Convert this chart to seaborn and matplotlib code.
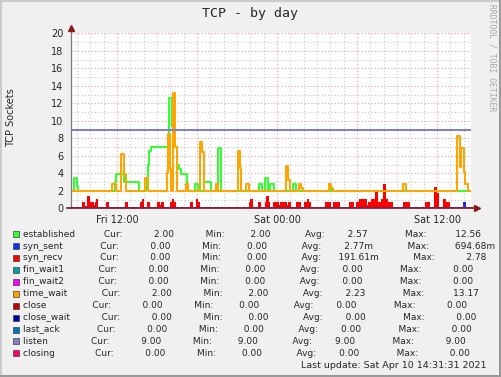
import numpy as np
import pandas as pd
import matplotlib
matplotlib.use("Agg")
import matplotlib.pyplot as plt
import seaborn as sns
from matplotlib.lines import Line2D
from matplotlib.patches import Rectangle
from matplotlib.ticker import MultipleLocator, FuncFormatter

sns.set_style("white")
plt.rcParams['font.family'] = ['DejaVu Sans']

# ---- time axis (hours relative to Fri 12:00) ----
T_START, T_END = -3.475, 26.525
tick_hours = [0, 12, 24]
tick_labels = ["Fri 12:00", "Sat 00:00", "Sat 12:00"]

# ---- series (step breakpoints: time, value) ----
est_t = [-3.475, -3.20, -3.02, -2.95, -0.13, -0.08, 0.50, 1.65, 2.18, 2.25, 2.35, 2.42,
         2.51, 3.90, 4.10, 4.20, 4.48, 4.67, 4.80, 5.25, 5.85, 6.05, 6.55, 7.05, 7.60,
         7.80, 10.63, 10.88, 11.06, 11.35, 11.48, 11.80, 13.20, 13.43, 16.01, 16.09]
est_v = [2.0, 3.43, 2.6, 2.0, 3.0, 3.96, 2.97, 2.0, 2.5, 3.4, 5.0, 6.5,
         6.97, 12.56, 9.4, 7.0, 5.0, 4.5, 3.96, 2.0, 2.78, 2.0, 2.97, 2.0, 6.86,
         2.0, 2.74, 2.0, 3.43, 2.0, 2.74, 2.0, 2.74, 2.0, 2.3, 2.0]

tw_t = [-3.475, -0.38, -0.08, 0.30, 0.50, 0.68, 2.12, 2.35, 3.73, 3.85, 3.98, 4.07,
        4.18, 4.35, 4.48, 5.18, 5.35, 6.20, 6.35, 6.50, 7.43, 7.60, 9.05, 9.23, 9.33,
        9.68, 9.88, 12.68, 12.85, 12.98, 13.63, 13.80, 13.95, 15.88, 16.05, 16.18,
        21.43, 21.64, 25.50, 25.73, 25.82, 26.05, 26.12, 26.30]
tw_v = [2.0, 2.74, 2.0, 6.2, 3.9, 2.0, 3.43, 2.0, 4.1, 8.46, 4.5, 2.0,
        13.17, 7.0, 2.0, 2.78, 2.0, 7.54, 6.47, 2.0, 2.78, 2.0, 6.55, 4.57, 2.0,
        2.78, 2.0, 4.85, 3.2, 2.0, 2.74, 2.3, 2.0, 2.74, 2.3, 2.0,
        2.74, 2.0, 8.26, 4.76, 6.85, 4.2, 2.78, 2.0]

sr_t = [-3.475, -2.65, -2.42, -2.27, -2.02, -1.73, -1.63, -1.55, -1.40, -0.83, -0.60,
        0.56, 0.79, 1.75, 1.88, 2.05, 2.21, 2.50, 3.00, 3.19, 3.26, 3.55, 4.00, 4.12,
        4.28, 4.43, 5.45, 5.68, 5.95, 6.10, 6.25, 9.86, 9.98, 10.16, 10.55, 10.80,
        11.10, 11.20, 11.38, 11.45, 11.72, 12.15, 12.23, 12.73, 12.85, 13.05, 13.43,
        13.80, 14.05, 14.27, 14.40, 14.55, 15.60, 16.01, 16.16, 16.69, 17.42, 17.80,
        17.93, 18.17, 18.75, 18.85, 19.05, 19.35, 19.55, 19.80, 19.95, 20.15, 20.35,
        20.68, 21.43, 22.00, 23.10, 23.50, 23.80, 24.00, 24.17, 24.43, 24.68, 25.00]
sr_v = [0, 0.69, 0.3, 1.4, 0.69, 0.35, 0.69, 1.03, 0, 0.69, 0,
        0.69, 0, 0.69, 1.03, 0, 0.69, 0, 0.69, 0.35, 0.69, 0, 0.69, 1.03,
        0.69, 0, 0.69, 0, 1.03, 0.69, 0, 0.69, 1.03, 0, 0.69, 0,
        0.69, 1.4, 0.69, 0, 0.69, 0.35, 0.69, 0.35, 0.69, 0, 0.69,
        0, 0.69, 1.03, 0.69, 0, 0.69, 0, 0.69, 0, 0.69, 0,
        0.69, 1.03, 0.35, 0.69, 1.03, 1.9, 0.69, 1.03, 2.78, 1.03, 0.69,
        0, 0.69, 0, 0.69, 0, 2.4, 1.7, 0, 1.03, 0.69, 0]

ss_t = [-3.475, 25.93, 26.18]
ss_v = [0, 0.69, 0]

listen_t = [-3.475]
listen_v = [9.0]

zero_t = [-3.475]
zero_v = [0.0]

# ---- legend table ----
names = ["established", "syn_sent", "syn_recv", "fin_wait1", "fin_wait2", "time_wait",
         "close", "close_wait", "last_ack", "listen", "closing"]
colors = ["#33FF33", "#1133EE", "#FF0000", "#00A0A0", "#FF00FF", "#FFA500",
          "#C00000", "#0000B0", "#0077BB", "#8080C8", "#FF0066"]
cur = [2.00, 0.00, 0.00, 0.00, 0.00, 2.00, 0.00, 0.00, 0.00, 9.00, 0.00]
mins = [2.00, 0.00, 0.00, 0.00, 0.00, 2.00, 0.00, 0.00, 0.00, 9.00, 0.00]
avgs = [2.57, 0.00277, 0.19161, 0.00, 0.00, 2.23, 0.00, 0.00, 0.00, 9.00, 0.00]
maxs = [12.56, 0.69468, 2.78, 0.00, 0.00, 13.17, 0.00, 0.00, 0.00, 9.00, 0.00]

W, H = 501, 377


def steps(t, v):
    return pd.DataFrame({"t": list(t) + [T_END], "v": list(v) + [v[-1]]})


fig = plt.figure(figsize=(W / 100, H / 100), dpi=100)
fig.patch.set_facecolor("#F0F0F0")
ax = fig.add_axes([70.7 / W, 1 - 208.3 / H, 400 / W, 175 / H])
ax.set_facecolor("white")
ax.set_xlim(T_START, T_END)
ax.set_ylim(0, 20)

# grid
ax.xaxis.set_major_locator(MultipleLocator(6))
ax.xaxis.set_minor_locator(MultipleLocator(1))
ax.yaxis.set_major_locator(MultipleLocator(2))
ax.yaxis.set_minor_locator(MultipleLocator(1))
ax.grid(which="minor", color="#C8C8C8", lw=0.8, ls=(0, (1, 2)), zorder=0)
ax.grid(which="major", color="#EE9A9A", lw=0.8, ls=(0, (1, 2)), zorder=0)
ax.set_axisbelow(True)


def xfmt(h, pos):
    for th, tl in zip(tick_hours, tick_labels):
        if abs(h - th) < 1e-6:
            return tl
    return ""


ax.xaxis.set_major_formatter(FuncFormatter(xfmt))
ax.yaxis.set_major_formatter(FuncFormatter(lambda v, p: f"{v:.0f}"))
ax.tick_params(axis="both", which="major", length=2.2, width=0.7, color="#808080",
               labelsize=7, direction="out")
ax.tick_params(axis="both", which="minor", length=1.5, width=0.7, color="#A0A0A0",
               direction="out")
ax.tick_params(axis="y", pad=3)
ax.tick_params(axis="x", pad=2.5)
for s in ax.spines.values():
    s.set_visible(False)

# zero-valued series
for c in colors[3:5] + colors[6:9] + colors[10:]:
    sns.lineplot(data=steps(zero_t, zero_v), x="t", y="v", ax=ax, color=c, linewidth=1.2,
                 drawstyle="steps-post", estimator=None, sort=False, legend=False)

# established
sns.lineplot(data=steps(est_t, est_v), x="t", y="v", ax=ax, color=colors[0], linewidth=1.45,
             drawstyle="steps-post", estimator=None, sort=False, legend=False)
# areas
d = steps(ss_t, ss_v)
ax.fill_between(d["t"], 0, d["v"], step="post", color=colors[1], lw=0, zorder=1.5)
d = steps(sr_t, sr_v)
ax.fill_between(d["t"], 0, d["v"], step="post", color=colors[2], lw=0, zorder=1.5)
# time_wait
sns.lineplot(data=steps(tw_t, tw_v), x="t", y="v", ax=ax, color=colors[5], linewidth=1.45,
             drawstyle="steps-post", estimator=None, sort=False, legend=False)
# listen
sns.lineplot(data=steps(listen_t, listen_v), x="t", y="v", ax=ax, color=colors[9],
             linewidth=1.45, drawstyle="steps-post", estimator=None, sort=False, legend=False)

ax.set_xlabel("")
ax.set_ylabel("")

# axes lines with arrows
ax.plot([0, 0], [0, 1.025], transform=ax.transAxes, color="#7A7A7A", lw=0.9,
        clip_on=False, zorder=6)
ax.plot([0], [1.03], transform=ax.transAxes, marker="^", color="#8B1A1A", markersize=4,
        clip_on=False, zorder=7, lw=0)
ax.plot([-0.01, 1.01], [0, 0], transform=ax.transAxes, color="#7F1F3C", lw=1.3,
        clip_on=False, zorder=6)
ax.plot([1.015], [0], transform=ax.transAxes, marker=">", color="#8B1A1A", markersize=4,
        clip_on=False, zorder=7, lw=0)

# texts
fig.text(250 / W, 1 - 13 / H, "TCP - by day", family="DejaVu Sans Mono", fontsize=9.5,
         ha="center", va="center")
fig.text(11 / W, 1 - 118 / H, "TCP Sockets", rotation=90, ha="center", va="center",
         fontsize=7)
fig.text(492 / W, 1 - 58 / H, "RRDTOOL / TOBI OETIKER", rotation=270,
         family="DejaVu Sans Mono", fontsize=5.8, color="#A8A8A8", ha="center", va="center")


def fmt(v):
    if v != 0 and abs(v) < 1:
        return f"{v * 1000:8.2f}m"
    return f"{v:8.2f} "


for i, n in enumerate(names):
    base = 236.7 + i * 11.9
    fig.add_artist(Rectangle((13.3 / W, 1 - (base + 0.6) / H), 6 / W, 6 / H,
                             transform=fig.transFigure, facecolor=colors[i],
                             edgecolor="#404040", lw=0.5))
    row = (f"{n:<12}" + " " * 9 + "Cur:" + " " * 7 + fmt(cur[i]) + " " * 10 + "Min:" +
           " " * 5 + fmt(mins[i]) + " " * 11 + "Avg:" + " " * 4 + fmt(avgs[i]) +
           " " * 12 + "Max:" + " " * 7 + fmt(maxs[i]))
    fig.text(23 / W, 1 - base / H, row, fontsize=6.5, ha="left", va="baseline")

fig.text(486.5 / W, 1 - 368.3 / H, "Last update: Sat Apr 10 14:31:31 2021", fontsize=6.8,
         ha="right", va="baseline")

# frame
fig.add_artist(Line2D([0, 1], [1 - 0.8 / H, 1 - 0.8 / H], transform=fig.transFigure,
                      color="#CBCBCB", lw=1.5))
fig.add_artist(Line2D([0.8 / W, 0.8 / W], [0, 1], transform=fig.transFigure,
                      color="#CBCBCB", lw=1.5))
fig.add_artist(Line2D([0, 1], [0.8 / H, 0.8 / H], transform=fig.transFigure,
                      color="#999999", lw=1.5))
fig.add_artist(Line2D([1 - 0.8 / W, 1 - 0.8 / W], [0, 1], transform=fig.transFigure,
                      color="#999999", lw=1.5))

fig.savefig("out.png", dpi=100, facecolor=fig.get_facecolor())
